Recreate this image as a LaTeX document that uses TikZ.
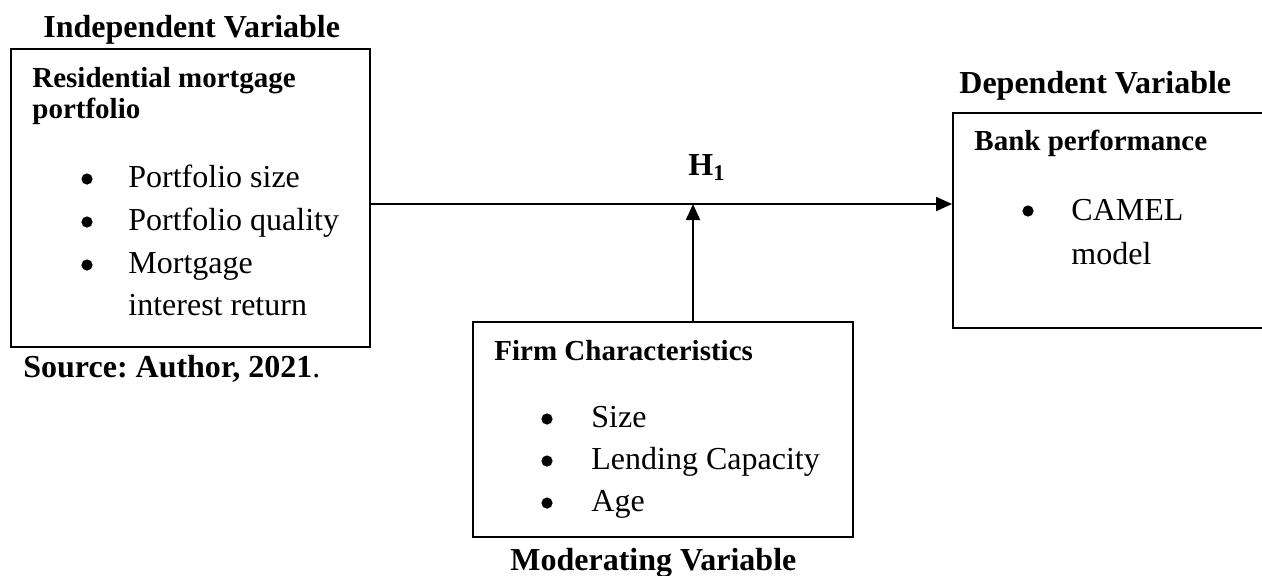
\documentclass[tikz,border=0pt]{standalone}
\usepackage{fontspec}
\setmainfont{Liberation Serif}
\usetikzlibrary{arrows.meta}
\frenchspacing
\begin{document}
\begin{tikzpicture}[x=0.5pt,y=-0.5pt,
  box/.style={draw,line width=0.9pt,inner sep=0pt},
  txt/.style={inner sep=0pt,anchor=base west,font=\fontsize{16pt}{19pt}\selectfont},
  head/.style={inner sep=0pt,anchor=base west,font=\fontsize{14.5pt}{17pt}\selectfont\bfseries},
  ttl/.style={inner sep=0pt,anchor=base west,font=\fontsize{16pt}{19pt}\selectfont\bfseries},
  bul/.style={circle,fill,inner sep=0pt,minimum size=5.6pt},
  arr/.style={line width=0.9pt,-{Triangle[length=8pt,width=7pt]}}]
\useasboundingbox (0,0) rectangle (1262,575);
% boxes
\node[box,minimum width=179.5pt,minimum height=149pt] (ind) at (190.5,198) {};
\node[box,minimum width=173.5pt,minimum height=107.5pt] (dep) at (1126.5,220.5) {};
\node[box,minimum width=190pt,minimum height=107.5pt] (mod) at (663,429.5) {};
\coordinate (j) at (693,204);
% connectors
\draw[arr] (ind.east |- j) -- (dep.west |- j);
\draw[arr] (j |- mod.north) -- (j);
% titles
\node[ttl] (t1) at (43,37) {Independent Variable};
\node[ttl] (t2) at (959,93) {Dependent Variable};
\node[ttl] (t3) at (510,570) {Moderating Variable};
\node[ttl] (h1) at (688,175) {H\textsubscript{1}};
\node[ttl] (src) at (23,377) {Source: Author, 2021\textmd{.}};
% left box content
\node[head] (lh1) at (32,87) {Residential mortgage};
\node[head] (lh2) at (32,118) {portfolio};
\node[bul] (lb1) at (87,179) {};
\node[bul] (lb2) at (87,222) {};
\node[bul] (lb3) at (87,265) {};
\node[txt] (l1) at (128,187) {Portfolio size};
\node[txt] (l2) at (128,230) {Portfolio quality};
\node[txt] (l3) at (128,273) {Mortgage};
\node[txt] (l4) at (128,315) {interest return};
% right box content
\node[head] (rh) at (974,150) {Bank performance};
\node[bul] (rb1) at (1028,211) {};
\node[txt] (r1) at (1071,220) {CAMEL};
\node[txt] (r2) at (1071,264) {model};
% bottom box content
\node[head] (mh) at (494,360) {Firm Characteristics};
\node[bul] (mb1) at (547,419) {};
\node[bul] (mb2) at (547,461) {};
\node[bul] (mb3) at (547,503) {};
\node[txt] (m1) at (591,427) {Size};
\node[txt] (m2) at (591,469) {Lending Capacity};
\node[txt] (m3) at (591,511) {Age};
\end{tikzpicture}
\end{document}
